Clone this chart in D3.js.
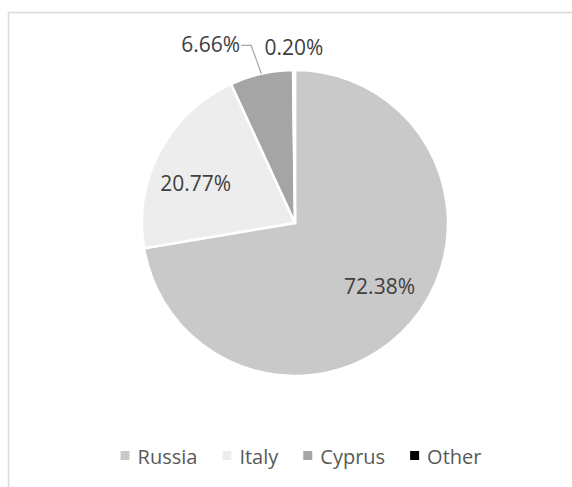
<!DOCTYPE html>
<html>
<head>
<meta charset="utf-8">
<script src="https://cdn.jsdelivr.net/npm/d3@7"></script>
<style>
  body { margin: 0; background: #fff; }
  text { font-family: "Open Sans", sans-serif; }
</style>
</head>
<body>
<div id="chart"></div>
<script>
// data
const countries = ["Russia", "Italy", "Cyprus", "Other"];
const shares = [72.38, 20.77, 6.66, 0.20];
const colors = ["#c9c9c9", "#ededed", "#a5a5a5", "#000000"];

const width = 572, height = 487;
const cx = 295, cy = 223, radius = 153;
const fontSize = 21;

const svg = d3.select("#chart").append("svg")
    .attr("width", width)
    .attr("height", height);

// chart area border (cropped at right and bottom)
svg.append("rect")
    .attr("x", 8.5).attr("y", 12.5)
    .attr("width", 700).attr("height", 600)
    .attr("fill", "none")
    .attr("stroke", "#d9d9d9")
    .attr("stroke-width", 1.5);

const data = countries.map((c, i) => ({name: c, value: shares[i], color: colors[i]}));

const pie = d3.pie().sort(null).value(d => d.value);
const arcs = pie(data);

const arc = d3.arc().innerRadius(0).outerRadius(radius);
const labelArc = d3.arc().innerRadius(radius * 0.69).outerRadius(radius * 0.69);

const g = svg.append("g").attr("transform", `translate(${cx},${cy})`);

g.selectAll("path.slice")
    .data(arcs)
    .join("path")
    .attr("class", "slice")
    .attr("d", arc)
    .attr("fill", d => d.data.color)
    .attr("stroke", "#fff")
    .attr("stroke-width", 2.5)
    .attr("stroke-linejoin", "round");

const fmt = v => v.toFixed(2) + "%";
const midAngle = d => (d.startAngle + d.endAngle) / 2;

// inside labels for the big slices (Excel nudges them a little)
const nudges = [[4, -5], [-6, 9]];
arcs.slice(0, 2).forEach((d, i) => {
    const [x, y] = labelArc.centroid(d);
    g.append("text")
        .attr("x", x + nudges[i][0]).attr("y", y + nudges[i][1])
        .attr("text-anchor", "middle")
        .attr("dominant-baseline", "central")
        .attr("font-size", fontSize)
        .attr("fill", "#404040")
        .text(fmt(d.data.value));
});

// Cyprus: outside with leader line
{
    const d = arcs[2];
    const a = midAngle(d);
    const p0 = [radius * Math.sin(a), -radius * Math.cos(a)];
    const p1 = [(radius + 28) * Math.sin(a) - 4, -(radius + 28) * Math.cos(a) - 1];
    const p2 = [p1[0] - 10, p1[1]];
    g.append("path")
        .attr("d", d3.line()([p0, p1, p2]))
        .attr("fill", "none")
        .attr("stroke", "#a6a6a6")
        .attr("stroke-width", 1.2);
    g.append("text")
        .attr("x", p2[0] - 1).attr("y", p2[1] - 1)
        .attr("text-anchor", "end")
        .attr("dominant-baseline", "central")
        .attr("font-size", fontSize)
        .attr("fill", "#404040")
        .text(fmt(d.data.value));
}

// Other: outside, no leader
{
    const d = arcs[3];
    const a = midAngle(d);
    const r = radius + 23;
    g.append("text")
        .attr("x", r * Math.sin(a)).attr("y", -r * Math.cos(a))
        .attr("text-anchor", "middle")
        .attr("dominant-baseline", "central")
        .attr("font-size", fontSize)
        .attr("fill", "#404040")
        .text(fmt(d.data.value));
}

// legend
const legend = svg.append("g").attr("transform", "translate(0,456)");
const items = legend.selectAll("g.item")
    .data(data)
    .join("g")
    .attr("class", "item");

items.append("rect")
    .attr("width", 9).attr("height", 9)
    .attr("y", -5)
    .attr("fill", d => d.color);

items.append("text")
    .attr("x", 17)
    .attr("dominant-baseline", "central")
    .attr("font-size", 20)
    .attr("fill", "#595959")
    .text(d => d.name);

let offsets = [], total = 0;
items.each(function () {
    const w = 17 + this.querySelector("text").getComputedTextLength();
    offsets.push(total);
    total += w + 25;
});
total -= 25;
const startX = 301 - total / 2;
items.attr("transform", (d, i) => `translate(${startX + offsets[i]},0)`);
</script>
</body>
</html>
